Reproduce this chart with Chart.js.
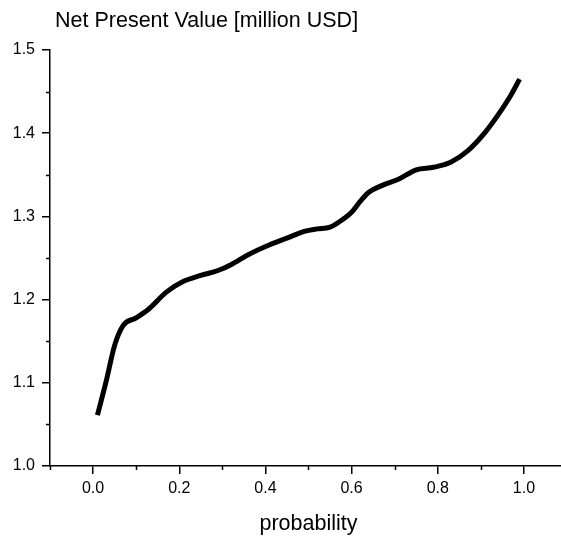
<!DOCTYPE html>
<html>
<head>
<meta charset="utf-8">
<script src="https://cdn.jsdelivr.net/npm/chart.js@4.4.1/dist/chart.umd.min.js"></script>
<style>
  html, body { margin: 0; padding: 0; background: #fff; overflow: hidden; }
  #wrap { width: 568px; height: 537px; }
</style>
</head>
<body>
<div id="wrap"><canvas id="npvChart" width="568" height="537"></canvas></div>
<script>
'use strict';

// values
var probability = [0.01, 0.03, 0.05, 0.07, 0.10, 0.13, 0.17, 0.21, 0.25, 0.29,
    0.32, 0.36, 0.41, 0.46, 0.49, 0.52, 0.55, 0.57, 0.60, 0.62,
    0.64, 0.67, 0.71, 0.75, 0.79, 0.83, 0.87, 0.91, 0.94, 0.97, 0.99];
var npvValues = [1.061, 1.101, 1.145, 1.169, 1.178, 1.189, 1.209, 1.222, 1.229, 1.235,
    1.242, 1.254, 1.266, 1.276, 1.282, 1.285, 1.287, 1.293, 1.305, 1.318,
    1.329, 1.337, 1.345, 1.356, 1.359, 1.365, 1.379, 1.401, 1.422, 1.446, 1.465];

var xMajorTicks = [0.0, 0.2, 0.4, 0.6, 0.8, 1.0];
var xMinorTicks = [-0.1, 0.1, 0.3, 0.5, 0.7, 0.9];
var yMajorTicks = [1.0, 1.1, 1.2, 1.3, 1.4, 1.5];
var yMinorTicks = [1.05, 1.15, 1.25, 1.35, 1.45];

var chartTitle = 'Net Present Value [million USD]';
var xAxisTitle = 'probability';

(function () {
    var fontFamily = '"Liberation Sans", Arial, sans-serif';
    var points = [];
    var i;

    for (i = 0; i < probability.length; i++) {
        points.push({ x: probability[i], y: npvValues[i] });
    }

    // minor ticks and the top-left heading
    var extras = {
        id: 'extras',
        afterDraw: function (chart) {
            var ctx = chart.ctx;
            var area = chart.chartArea;
            var xScale = chart.scales.x;
            var yScale = chart.scales.y;

            ctx.save();
            ctx.strokeStyle = '#000';
            ctx.lineWidth = 1.5;
            ctx.beginPath();
            xMinorTicks.forEach(function (v) {
                var px = Math.round(xScale.getPixelForValue(v)) + 0.5;
                ctx.moveTo(px, area.bottom);
                ctx.lineTo(px, area.bottom + 4);
            });
            yMinorTicks.forEach(function (v) {
                var py = Math.round(yScale.getPixelForValue(v)) + 0.5;
                ctx.moveTo(area.left - 4, py);
                ctx.lineTo(area.left, py);
            });
            ctx.stroke();

            ctx.fillStyle = '#000';
            ctx.font = '21.5px ' + fontFamily;
            ctx.textBaseline = 'middle';
            ctx.textAlign = 'left';
            ctx.fillText(chartTitle, area.left + 5, 21);
            ctx.restore();
        }
    };

    var ctx = document.getElementById('npvChart');

    var npvChart = new Chart(ctx, {
        type: 'line',
        data: {
            datasets: [{
                data: points,
                borderColor: '#000',
                borderWidth: 5,
                borderCapStyle: 'butt',
                fill: false,
                pointRadius: 0,
                cubicInterpolationMode: 'monotone'
            }]
        },
        options: {
            responsive: false,
            animation: false,
            layout: {
                padding: { top: 50, right: 1, bottom: 0, left: 0 }
            },
            plugins: {
                legend: { display: false },
                tooltip: { enabled: false }
            },
            scales: {
                x: {
                    type: 'linear',
                    min: -0.1,
                    max: 1.1,
                    afterBuildTicks: function (scale) {
                        scale.ticks = xMajorTicks.map(function (v) { return { value: v }; });
                    },
                    afterFit: function (scale) {
                        scale.height = 71;
                    },
                    border: { color: '#000', width: 1.5 },
                    grid: {
                        drawOnChartArea: false,
                        color: '#000',
                        lineWidth: 1.5,
                        tickLength: 8
                    },
                    ticks: {
                        color: '#000',
                        padding: 5,
                        maxRotation: 0,
                        font: { family: fontFamily, size: 16 },
                        callback: function (v) { return Number(v).toFixed(1); }
                    },
                    title: {
                        display: true,
                        text: xAxisTitle,
                        color: '#000',
                        padding: { top: 0, bottom: 0 },
                        font: { family: fontFamily, size: 21.5 }
                    }
                },
                y: {
                    type: 'linear',
                    min: 1.0,
                    max: 1.5,
                    afterBuildTicks: function (scale) {
                        scale.ticks = yMajorTicks.map(function (v) { return { value: v }; });
                    },
                    afterFit: function (scale) {
                        scale.width = 50;
                    },
                    border: { color: '#000', width: 1.5 },
                    grid: {
                        drawOnChartArea: false,
                        color: '#000',
                        lineWidth: 1.5,
                        tickLength: 8
                    },
                    ticks: {
                        color: '#000',
                        padding: 7,
                        font: { family: fontFamily, size: 16 },
                        callback: function (v) { return Number(v).toFixed(1); }
                    }
                }
            }
        },
        plugins: [extras]
    });
})();
</script>
</body>
</html>
